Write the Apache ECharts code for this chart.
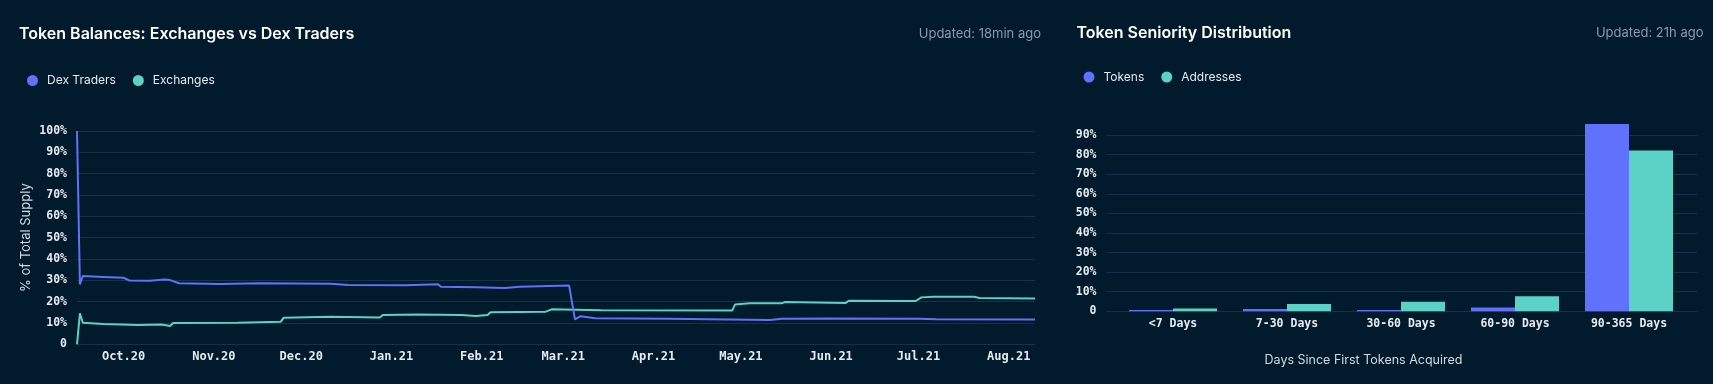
<!DOCTYPE html>
<html>
<head>
<meta charset="utf-8">
<script src="https://cdn.jsdelivr.net/npm/echarts@6/dist/echarts.min.js"></script>
<style>
html,body{margin:0;padding:0;background:#011a2c;}
#c{width:1713px;height:384px;}
</style>
</head>
<body>
<div id="c"></div>
<script>
// ---- Data: Token Balances (% of total supply) ----
const dexDates = ['2020-09-15','2020-09-16','2020-09-17','2020-09-24','2020-10-01','2020-10-03','2020-10-10','2020-10-15','2020-10-17','2020-10-20','2020-11-03','2020-11-17','2020-12-11','2020-12-17','2021-01-06','2021-01-17','2021-01-18','2021-01-30','2021-02-09','2021-02-14','2021-03-03','2021-03-05','2021-03-07','2021-03-12','2021-04-06','2021-05-04','2021-05-11','2021-05-15','2021-05-31','2021-07-01','2021-07-07','2021-08-10'];
const dexValues = [100, 28.1, 32.0, 31.6, 31.2, 29.9, 29.8, 30.4, 30.1, 28.6, 28.3, 28.6, 28.4, 27.8, 27.7, 28.1, 27.0, 26.7, 26.4, 27.0, 27.6, 11.7, 13.2, 12.2, 12.0, 11.5, 11.4, 12.0, 12.1, 12.0, 11.7, 11.6];

const exDates = ['2020-09-15','2020-09-16','2020-09-17','2020-09-24','2020-10-06','2020-10-14','2020-10-17','2020-10-18','2020-11-09','2020-11-24','2020-11-25','2020-12-11','2020-12-28','2020-12-29','2021-01-10','2021-01-25','2021-01-30','2021-02-03','2021-02-04','2021-02-23','2021-02-25','2021-03-14','2021-04-28','2021-04-29','2021-05-04','2021-05-15','2021-05-16','2021-06-06','2021-06-07','2021-06-30','2021-07-02','2021-07-06','2021-07-20','2021-07-22','2021-08-10'];
const exValues = [0, 14.5, 10.1, 9.5, 9.05, 9.3, 8.6, 10.0, 10.1, 10.6, 12.5, 12.9, 12.6, 13.7, 14.0, 13.7, 13.3, 13.7, 15.0, 15.3, 16.4, 16.0, 15.8, 18.7, 19.2, 19.2, 19.8, 19.4, 20.4, 20.3, 22.0, 22.3, 22.3, 21.7, 21.5];

const monthTicks  = ['2020-10-01','2020-11-01','2020-12-01','2021-01-01','2021-02-01','2021-03-01','2021-04-01','2021-05-01','2021-06-01','2021-07-01','2021-08-01'];
const monthLabels = ['Oct.20','Nov.20','Dec.20','Jan.21','Feb.21','Mar.21','Apr.21','May.21','Jun.21','Jul.21','Aug.21'];

// ---- Data: Token Seniority Distribution (%) ----
const ageCategories = ['<7 Days','7-30 Days','30-60 Days','60-90 Days','90-365 Days'];
const tokensPct    = [0.7, 1.2, 0.7, 1.9, 95.6];
const addressesPct = [1.4, 3.7, 4.9, 7.7, 82.1];

// ---- helpers ----
function toTs(s){ const p = s.split('-').map(Number); return Date.UTC(p[0], p[1]-1, p[2]); }
const monthTs = monthTicks.map(toTs);
const pct = v => v === 0 ? '0' : v + '%';

const BLUE = '#6072fb', TEAL = '#5bd2c5';
const GRID = '#143349';
const LABEL = '#e6eaf0';
const MONO = '"DejaVu Sans Mono", monospace';
const SANS = 'Inter, "Noto Sans", sans-serif';

const chart = echarts.init(document.getElementById('c'), null, {renderer:'canvas'});
chart.setOption({
  backgroundColor: '#011a2c',
  animation: false,
  textStyle: {fontFamily: SANS},
  graphic: [
    {type:'text', x:19, y:34, style:{text:'Token Balances: Exchanges vs Dex Traders', fill:'#ffffff', font:'600 16px ' + SANS, verticalAlign:'middle', align:'left'}},
    {type:'text', x:1041, y:34, style:{text:'Updated: 18min ago', fill:'#8a9aab', font:'13px ' + SANS, verticalAlign:'middle', align:'right'}},
    {type:'text', x:1076.5, y:33, style:{text:'Token Seniority Distribution', fill:'#ffffff', font:'600 16px ' + SANS, verticalAlign:'middle', align:'left'}},
    {type:'text', x:1703.5, y:33, style:{text:'Updated: 21h ago', fill:'#8a9aab', font:'13px ' + SANS, verticalAlign:'middle', align:'right'}},
    {type:'text', x:1363.5, y:360, style:{text:'Days Since First Tokens Acquired', fill:'#d3d9e1', font:'12.5px ' + SANS, verticalAlign:'middle', align:'center'}}
  ],
  legend: [
    {data:['Dex Traders','Exchanges'], left:27, top:74.5, padding:0, icon:'circle', itemWidth:11, itemHeight:11, itemGap:17,
     textStyle:{color:LABEL, fontSize:12, fontFamily:SANS, padding:[0,0,0,4]}},
    {data:['Tokens','Addresses'], left:1083.5, top:71, padding:0, icon:'circle', itemWidth:11, itemHeight:11, itemGap:17,
     textStyle:{color:LABEL, fontSize:12, fontFamily:SANS, padding:[0,0,0,4]}}
  ],
  grid: [
    {left:77, right:678, top:131, bottom:39.7},
    {left:1106.5, right:15.5, top:115.4, bottom:72.7},
    {left:1116, right:27, top:115.4, bottom:72.7}
  ],
  xAxis: [
    {type:'value', gridIndex:0, min:toTs(dexDates[0]), max:toTs(dexDates[dexDates.length-1]),
     axisLine:{show:false}, axisTick:{show:false}, splitLine:{show:false},
     axisLabel:{customValues: monthTs, color:LABEL, fontFamily:MONO, fontWeight:'bold', fontSize:12, margin:7,
       formatter: v => { const i = monthTs.indexOf(v); return i >= 0 ? monthLabels[i] : ''; }}},
    {type:'value', gridIndex:1, show:false},
    {type:'category', gridIndex:2, data:ageCategories,
     axisLine:{show:false}, axisTick:{show:false},
     axisLabel:{color:LABEL, fontFamily:MONO, fontWeight:'bold', fontSize:11.5, margin:7}}
  ],
  yAxis: [
    {type:'value', gridIndex:0, min:0, max:100, interval:10,
     name:'% of Total Supply', nameLocation:'middle', nameGap:44, nameMoveOverlap:false,
     nameTextStyle:{color:'#d3d9e1', fontSize:13, fontFamily:SANS},
     axisLine:{show:false}, axisTick:{show:false},
     axisLabel:{formatter:pct, color:LABEL, fontFamily:MONO, fontWeight:'bold', fontSize:11.5, margin:10},
     splitLine:{lineStyle:{color:GRID, width:1}}},
    {type:'value', gridIndex:1, min:0, max:100, interval:10,
     axisLine:{show:false}, axisTick:{show:false},
     axisLabel:{formatter: v => v >= 100 ? '' : pct(v), showMaxLabel:false, color:LABEL, fontFamily:MONO, fontWeight:'bold', fontSize:11.5, margin:10},
     splitLine:{showMaxLine:false, lineStyle:{color:GRID, width:1}}},
    {type:'value', gridIndex:2, min:0, max:100, show:false, splitLine:{show:false}}
  ],
  series: [
    {name:'Exchanges', type:'line', xAxisIndex:0, yAxisIndex:0, showSymbol:false, symbol:'none',
     color:TEAL, lineStyle:{width:2, color:TEAL}, itemStyle:{color:TEAL},
     data: exDates.map((d,i) => [toTs(d), exValues[i]])},
    {name:'Dex Traders', type:'line', xAxisIndex:0, yAxisIndex:0, showSymbol:false, symbol:'none',
     color:BLUE, lineStyle:{width:2, color:BLUE}, itemStyle:{color:BLUE},
     data: dexDates.map((d,i) => [toTs(d), dexValues[i]])},
    {name:'Tokens', type:'bar', xAxisIndex:2, yAxisIndex:2, barWidth:44, barGap:'0%',
     itemStyle:{color:BLUE}, color:BLUE, data:tokensPct},
    {name:'Addresses', type:'bar', xAxisIndex:2, yAxisIndex:2, barWidth:44, barGap:'0%',
     itemStyle:{color:TEAL}, color:TEAL, data:addressesPct}
  ]
});
</script>
</body>
</html>
